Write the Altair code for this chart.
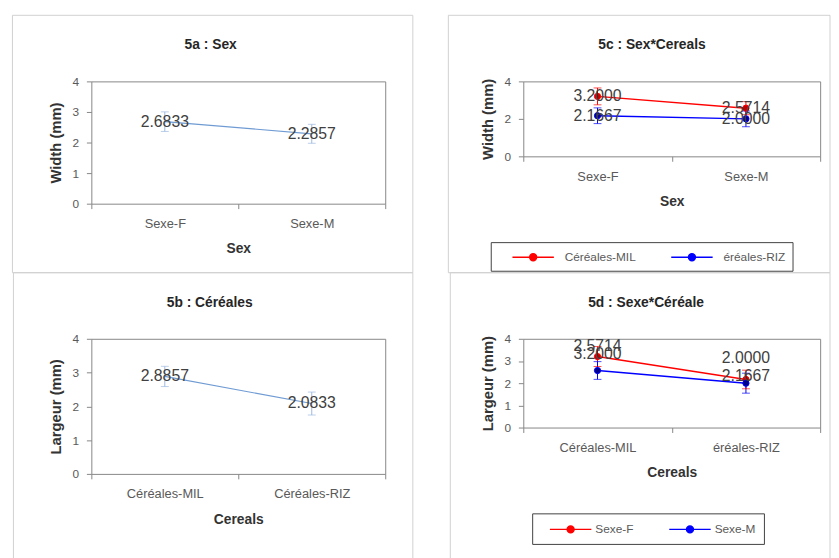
import altair as alt
import pandas as pd

# ---------------- data ----------------
titles = ["5a : Sex", "5b : Céréales", "5c : Sex*Cereals", "5d : Sexe*Céréale"]

a_cats = ["Sexe-F", "Sexe-M"]
a_means = [2.6833, 2.2857]
a_errs = [0.32, 0.31]

b_cats = ["Céréales-MIL", "Céréales-RIZ"]
b_means = [2.8857, 2.0833]
b_errs = [0.30, 0.34]

c_cats = ["Sexe-F", "Sexe-M"]
c_series = ["Céréales-MIL", "éréales-RIZ"]
c_mil = [3.2000, 2.5714]
c_riz = [2.1667, 2.0000]
c_mil_err = [0.45, 0.35]
c_riz_err = [0.42, 0.42]

d_cats = ["Céréales-MIL", "éréales-RIZ"]
d_series = ["Sexe-F", "Sexe-M"]
d_f = [3.2000, 2.1667]
d_m = [2.5714, 2.0000]
d_f_err = [0.45, 0.42]
d_m_err = [0.40, 0.45]

y_ticks_full = [0, 1, 2, 3, 4]
y_ticks_c = [0, 2, 4]

# ---------------- styles ----------------
FONT = "Liberation Sans"
LINE_A = "#6F9BD3"
ERR_A = "#9DB9DF"
LINE_COLORS = ["#FF0000", "#0000FF"]
FILL_COLORS = ["#C00000", "#00008B"]
LABEL = "#404040"
FRAME = "#D0D0D0"
SYMBOL_PATH = "M-3,0L3,0M-0.5,0A0.5,0.5,0,1,0,0.5,0A0.5,0.5,0,1,0,-0.5,0Z"
TITLE_OFFSET = -38


def x_enc(cats, title):
    return alt.X("cat:N", sort=cats,
                 scale=alt.Scale(type="band", domain=cats, paddingInner=0, paddingOuter=0),
                 axis=alt.Axis(title=title, tickBand="extent", labelAngle=0))


def y_enc(field, title, ticks):
    return alt.Y(field, type="quantitative",
                 scale=alt.Scale(domain=[0, 4], nice=False, zero=False),
                 axis=alt.Axis(title=title, values=ticks))


def frame_layer(x0, x1, y0, y1):
    return alt.Chart(alt.Data(values=[{"f": 1}])).mark_rect(
        fill="transparent", stroke=FRAME, strokeWidth=1
    ).encode(x=alt.value(x0), x2=alt.value(x1), y=alt.value(y0), y2=alt.value(y1))


def single_panel(cats, means, errs, title, title_dx, xtitle, ytitle, w, h, frame):
    df = pd.DataFrame({"cat": cats, "mean": means, "err": errs})
    base = alt.Chart(df).transform_calculate(
        lo="datum.mean - datum.err", hi="datum.mean + datum.err")
    x = x_enc(cats, xtitle)
    bar = base.mark_rule(color=ERR_A, strokeWidth=1).encode(
        x=x, y=y_enc("lo", ytitle, y_ticks_full), y2="hi:Q")
    cap_lo = base.mark_tick(color=ERR_A, size=8, thickness=1, orient="horizontal").encode(
        x=x, y=y_enc("lo", ytitle, y_ticks_full))
    cap_hi = base.mark_tick(color=ERR_A, size=8, thickness=1, orient="horizontal").encode(
        x=x, y=y_enc("hi", ytitle, y_ticks_full))
    line = base.mark_line(color=LINE_A, strokeWidth=1.2).encode(
        x=x, y=y_enc("mean", ytitle, y_ticks_full))
    text = base.mark_text(font=FONT, fontSize=16, color=LABEL).encode(
        x=x, y=y_enc("mean", ytitle, y_ticks_full),
        text=alt.Text("mean:Q", format=".4f"))
    return alt.layer(frame_layer(*frame), bar, cap_lo, cap_hi, line, text).properties(
        width=w, height=h,
        title=alt.Title(title, dx=title_dx, anchor="middle", frame="group", offset=TITLE_OFFSET))


def multi_panel(cats, series, s1, s2, e1, e2, title, title_dx, xtitle, ytitle, ticks,
                w, h, frame, leg, text_dys):
    rows = []
    for name, vals, errs in ((series[0], s1, e1), (series[1], s2, e2)):
        for c, v, e in zip(cats, vals, errs):
            rows.append({"cat": c, "series": name, "mean": v, "err": e})
    df = pd.DataFrame(rows)
    base = alt.Chart(df).transform_calculate(
        lo="datum.mean - datum.err", hi="datum.mean + datum.err")
    legend = alt.Legend(
        orient="none", legendX=leg["x"], legendY=leg["y"], direction="horizontal",
        title=None, strokeColor="#404040", fillColor="white", padding=leg["pad"],
        symbolType=SYMBOL_PATH, symbolSize=196, symbolStrokeWidth=1.5,
        symbolOffset=leg["so"], labelOffset=leg["lo"], columnPadding=leg["cp"],
        labelFont=FONT, labelFontSize=12, labelColor="#595959")
    stroke = alt.Stroke("series:N", sort=series,
                        scale=alt.Scale(domain=series, range=LINE_COLORS), legend=legend)
    fill = alt.Fill("series:N", sort=series,
                    scale=alt.Scale(domain=series, range=FILL_COLORS), legend=legend)
    color = alt.Color("series:N", sort=series,
                      scale=alt.Scale(domain=series, range=LINE_COLORS), legend=None)
    x = x_enc(cats, xtitle)
    bar = base.mark_rule(strokeWidth=1).encode(
        x=x, y=y_enc("lo", ytitle, ticks), y2="hi:Q", stroke=stroke)
    cap_lo = base.mark_tick(size=8, thickness=1, orient="horizontal").encode(
        x=x, y=y_enc("lo", ytitle, ticks), color=color)
    cap_hi = base.mark_tick(size=8, thickness=1, orient="horizontal").encode(
        x=x, y=y_enc("hi", ytitle, ticks), color=color)
    line = base.mark_line(strokeWidth=1.5).encode(
        x=x, y=y_enc("mean", ytitle, ticks), stroke=stroke, detail="series:N")
    pts = base.mark_point(filled=True, size=40, strokeWidth=1, opacity=1, shape="circle").encode(
        x=x, y=y_enc("mean", ytitle, ticks), fill=fill, stroke=stroke)
    texts = []
    for name, dy in zip(series, text_dys):
        texts.append(
            base.transform_filter(alt.datum.series == name)
            .mark_text(font=FONT, fontSize=16, color=LABEL, dy=dy)
            .encode(x=x, y=y_enc("mean", ytitle, ticks),
                    text=alt.Text("mean:Q", format=".4f")))
    return alt.layer(frame_layer(*frame), bar, cap_lo, cap_hi, line, pts, *texts).properties(
        width=w, height=h,
        title=alt.Title(title, dx=title_dx, anchor="middle", frame="group", offset=TITLE_OFFSET))


pa = single_panel(a_cats, a_means, a_errs, titles[0], -28, "Sex", "Width (mm)",
                  298, 124, (-80, 326, -67, 194))
pb = single_panel(b_cats, b_means, b_errs, titles[1], -29, "Cereals", "Largeur (mm)",
                  298, 137, (-79, 326, -67, 228))
pc = multi_panel(c_cats, c_series, c_mil, c_riz, c_mil_err, c_riz_err, titles[2], -20,
                 "Sex", "Width (mm)", y_ticks_c, 301, 76, (-76, 311, -67, 194),
                 {"x": -33, "y": 163, "pad": 7, "so": 28, "lo": 24, "cp": 20}, [0, 0])
pd_ = multi_panel(d_cats, d_series, d_f, d_m, d_f_err, d_m_err, titles[3], -26,
                  "Cereals", "Largeur (mm)", y_ticks_full, 301, 90, (-74, 311, -67, 228),
                  {"x": 9, "y": 177, "pad": 8, "so": 23, "lo": 17, "cp": 26}, [-3, -25])

chart = alt.concat(
    pa, pc, pb, pd_, columns=2, spacing={"row": 137, "column": 140}, bounds="flush"
).resolve_scale(
    x="independent", y="independent", color="independent", fill="independent",
    stroke="independent"
).resolve_legend(
    color="independent", fill="independent", stroke="independent"
).properties(
    padding={"left": 3.5, "top": 2.5, "right": 0, "bottom": 0}
).configure_view(
    stroke="#868686", strokeWidth=1
).configure_axis(
    labelFont=FONT, titleFont=FONT, labelColor="#595959", titleColor="#333333",
    tickColor="#868686", domain=False, grid=False, tickSize=5, titleFontWeight="bold"
).configure_axisX(
    labelFontSize=13, titleFontSize=14, labelPadding=9, titlePadding=12
).configure_axisY(
    labelFontSize=12, titleFontSize=15, labelPadding=8, titlePadding=9
).configure_title(
    font=FONT, fontSize=14, fontWeight="bold", color="#262626"
)

chart.save("out.html", embed_options={"renderer": "svg", "actions": False})
